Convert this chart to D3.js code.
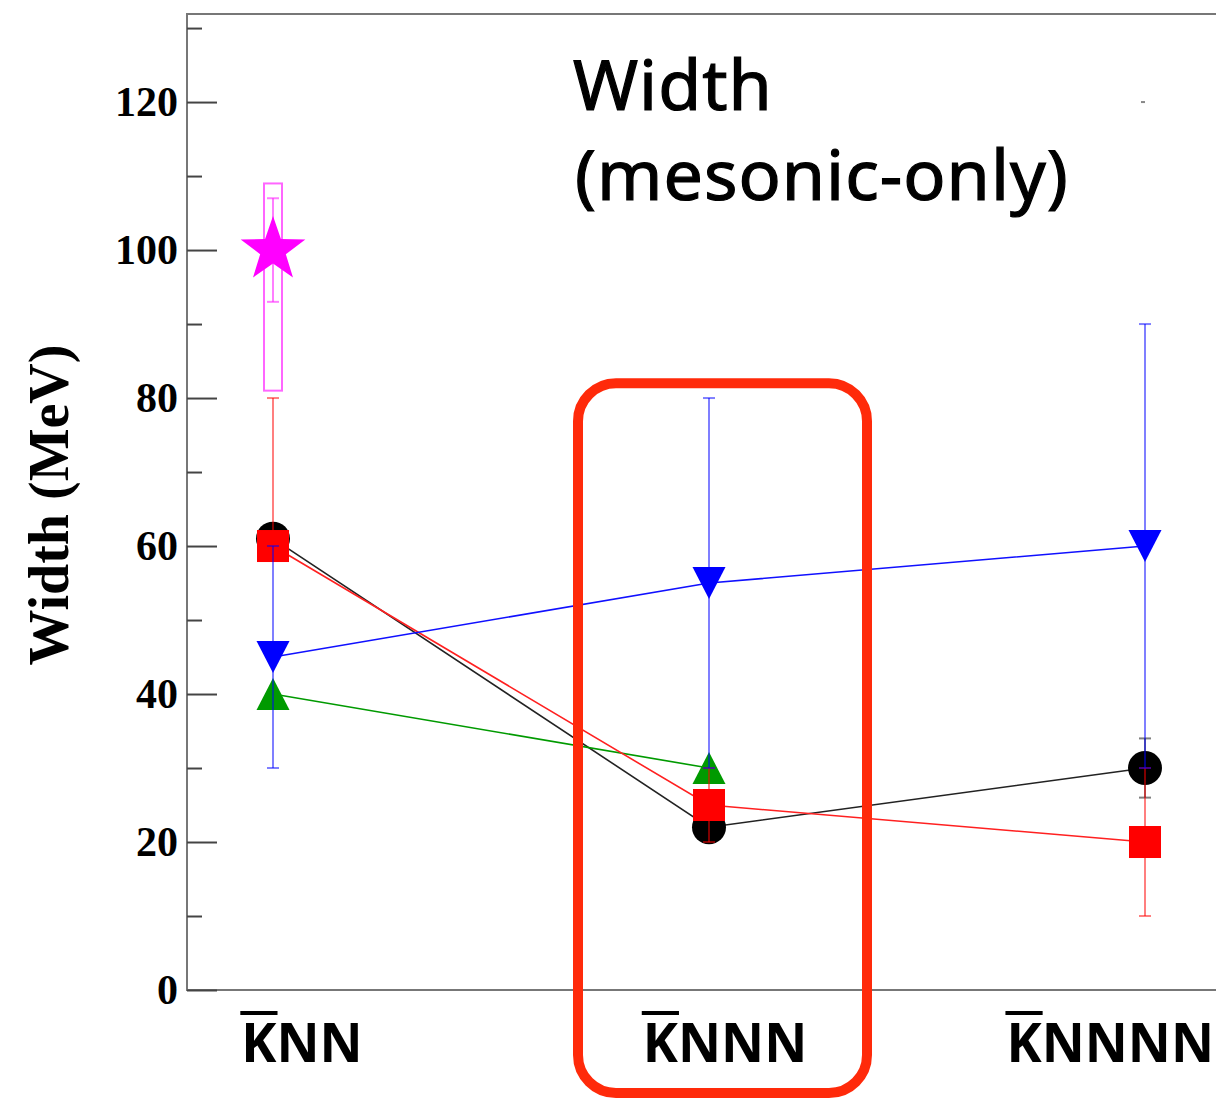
<!DOCTYPE html>
<html>
<head>
<meta charset="utf-8">
<script src="https://cdn.jsdelivr.net/npm/d3@7"></script>
<style>
  body { margin: 0; background: #fff; }
  svg { display: block; }
</style>
</head>
<body>
<svg id="chart" width="1216" height="1105"></svg>
<script>
// categories (the K is drawn with a bar over it)
const categories = ["KNN", "KNNN", "KNNNN"];

// mesonic-only widths (MeV), one list per calculation
const blackVals = [61, 22, 30];
const redVals = [60, 25, 20];
const blueVals = [45, 55, 60];
const greenVals = [40, 30, null];

// error bar ends (absolute values), null = not drawn
const blackLo = [null, null, 26];
const blackHi = [null, null, 34];
const redLo = [60, 20, 10];
const redHi = [80, 30, 30];
const blueLo = [30, 30, 30];
const blueHi = [60, 80, 90];

// experimental point on KNN (star) with stat. error and syst. box
const starVals = [100];
const starLo = [93];
const starHi = [107];
const starBoxLo = [81];
const starBoxHi = [109];

const yMajor = [0, 20, 40, 60, 80, 100, 120];
const yMinor = [10, 30, 50, 70, 90, 110, 130];

const svg = d3.select("#chart");
const W = 1216, H = 1105;
const plotLeft = 187, plotTop = 14, plotBottom = 990;

const y = d3.scaleLinear().domain([0, 131.9]).range([plotBottom, plotTop]);
const x = d3.scalePoint().domain(categories).range([273, 1145]);

// frame
const frame = svg.append("g").attr("stroke", "#777").attr("stroke-width", 2);
frame.append("line").attr("x1", plotLeft).attr("x2", W).attr("y1", plotTop).attr("y2", plotTop);
frame.append("line").attr("x1", plotLeft).attr("x2", W).attr("y1", plotBottom).attr("y2", plotBottom);
frame.append("line").attr("x1", plotLeft).attr("x2", plotLeft).attr("y1", plotTop - 1).attr("y2", plotBottom + 1);

// y axis, ticks pointing inward
const yAxis = svg.append("g")
    .attr("transform", `translate(${plotLeft},0)`)
    .call(d3.axisLeft(y).tickValues(yMajor).tickSize(-30).tickSizeOuter(0).tickPadding(9));
yAxis.select(".domain").remove();
yAxis.selectAll("line").attr("stroke", "#444").attr("stroke-width", 2);
yAxis.selectAll("text")
    .attr("font-family", "Liberation Serif, serif")
    .attr("font-weight", "bold")
    .attr("font-size", 42)
    .attr("fill", "#000");

const yMinorAxis = svg.append("g")
    .attr("transform", `translate(${plotLeft},0)`)
    .call(d3.axisLeft(y).tickValues(yMinor).tickSize(-15).tickSizeOuter(0).tickFormat(""));
yMinorAxis.select(".domain").remove();
yMinorAxis.selectAll("line").attr("stroke", "#444").attr("stroke-width", 2);

// stray tick mark on the right
svg.append("rect").attr("x", 1141).attr("y", y(120) - 1).attr("width", 4).attr("height", 2).attr("fill", "#888");

// y axis title
svg.append("text")
    .attr("transform", `translate(68,${(plotTop + plotBottom) / 2 + 3}) rotate(-90)`)
    .attr("text-anchor", "middle")
    .attr("font-family", "Liberation Serif, serif")
    .attr("font-weight", "bold")
    .attr("font-size", 56)
    .text("Width (MeV)");

// x labels with an overbar on the K (last one is pushed against the right edge)
const labelShift = [29, 16, 0];
categories.forEach(function(c, i) {
    const last = i === categories.length - 1;
    const t = svg.append("text")
        .attr("x", last ? W - 2 : x(c) + labelShift[i])
        .attr("y", 1062)
        .attr("text-anchor", last ? "end" : "middle")
        .attr("font-family", "Noto Sans, sans-serif")
        .attr("font-weight", "bold")
        .attr("font-size", 53)
        .text(c);
    const node = t.node();
    const p = node.getStartPositionOfChar(0);
    const kw = node.getSubStringLength(0, 1);
    svg.append("line")
        .attr("x1", p.x - 1).attr("x2", p.x + kw + 1)
        .attr("y1", 1013).attr("y2", 1013)
        .attr("stroke", "#000").attr("stroke-width", 4);
});

// title
const title = svg.append("text")
    .attr("font-family", "Noto Sans, sans-serif")
    .attr("font-size", 70)
    .attr("letter-spacing", 1)
    .attr("fill", "#000")
    .attr("stroke", "#000")
    .attr("stroke-width", 1.2);
title.append("tspan").attr("x", 573).attr("y", 110).text("Width");
title.append("tspan").attr("x", 575).attr("y", 200).text("(mesonic-only)");

// helpers
function errorBars(g, lo, hi, color, opacity) {
    categories.forEach(function(c, i) {
        if (lo[i] == null) return;
        const cx = x(c);
        const e = g.append("g").attr("stroke", color).attr("stroke-opacity", opacity).attr("stroke-width", 2);
        e.append("line").attr("x1", cx).attr("x2", cx).attr("y1", y(lo[i])).attr("y2", y(hi[i]));
        e.append("line").attr("x1", cx - 6).attr("x2", cx + 6).attr("y1", y(lo[i])).attr("y2", y(lo[i]));
        e.append("line").attr("x1", cx - 6).attr("x2", cx + 6).attr("y1", y(hi[i])).attr("y2", y(hi[i]));
    });
}

function connector(g, vals, color, width) {
    const pts = categories.map((c, i) => [x(c), vals[i]]).filter(d => d[1] != null);
    g.append("path")
        .datum(pts)
        .attr("fill", "none")
        .attr("stroke", color)
        .attr("stroke-width", width)
        .attr("d", d3.line().x(d => d[0]).y(d => y(d[1])));
}

function markers(g, vals, color, shape) {
    const pts = categories.map((c, i) => [x(c), vals[i]]).filter(d => d[1] != null);
    const sel = g.selectAll(null).data(pts).enter();
    if (shape === "circle") {
        sel.append("circle").attr("cx", d => d[0]).attr("cy", d => y(d[1])).attr("r", 17).attr("fill", color);
    } else if (shape === "square") {
        sel.append("rect").attr("x", d => d[0] - 16).attr("y", d => y(d[1]) - 16)
            .attr("width", 32).attr("height", 32).attr("fill", color);
    } else if (shape === "up") {
        sel.append("path").attr("fill", color)
            .attr("d", d => `M${d[0] - 16.5},${y(d[1]) + 16}L${d[0] + 16.5},${y(d[1]) + 16}L${d[0]},${y(d[1]) - 16}Z`);
    } else if (shape === "down") {
        sel.append("path").attr("fill", color)
            .attr("d", d => `M${d[0] - 16.5},${y(d[1]) - 16}L${d[0] + 16.5},${y(d[1]) - 16}L${d[0]},${y(d[1]) + 16}Z`);
    }
}

function starPath(cx, cy, R, r) {
    let s = "";
    for (let k = 0; k < 10; k++) {
        const a = -Math.PI / 2 + k * Math.PI / 5;
        const rad = k % 2 === 0 ? R : r;
        s += (k === 0 ? "M" : "L") + (cx + rad * Math.cos(a)) + "," + (cy + rad * Math.sin(a));
    }
    return s + "Z";
}

const plot = svg.append("g");

// connecting lines
connector(plot, blackVals, "#222", 1.6);
connector(plot, greenVals, "#009a00", 1.6);
connector(plot, redVals, "#ff2020", 1.6);
connector(plot, blueVals, "#1010ff", 1.6);

// black
errorBars(plot, blackLo, blackHi, "#000", 0.5);
markers(plot, blackVals, "#000", "circle");
// green
markers(plot, greenVals, "#009a00", "up");
// red
markers(plot, redVals, "#ff0000", "square");
errorBars(plot, redLo, redHi, "#ff0000", 0.5);
// blue
markers(plot, blueVals, "#0000ff", "down");
errorBars(plot, blueLo, blueHi, "#0000ff", 0.5);

// star with syst box
const kx = x(categories[0]);
starVals.forEach(function(v, i) {
    plot.append("rect")
        .attr("x", kx - 9).attr("y", y(starBoxHi[i]))
        .attr("width", 18).attr("height", y(starBoxLo[i]) - y(starBoxHi[i]))
        .attr("fill", "none").attr("stroke", "#ff00ff").attr("stroke-opacity", 0.6).attr("stroke-width", 2);
    plot.append("path").attr("d", starPath(kx, y(v), 34, 13.5)).attr("fill", "#ff00ff");
    const e = plot.append("g").attr("stroke", "#ff00ff").attr("stroke-opacity", 0.5).attr("stroke-width", 2);
    e.append("line").attr("x1", kx).attr("x2", kx).attr("y1", y(starLo[i])).attr("y2", y(starHi[i]));
    e.append("line").attr("x1", kx - 6).attr("x2", kx + 6).attr("y1", y(starLo[i])).attr("y2", y(starLo[i]));
    e.append("line").attr("x1", kx - 6).attr("x2", kx + 6).attr("y1", y(starHi[i])).attr("y2", y(starHi[i]));
});

// highlight box around KNNN
const hx = x(categories[1]);
svg.append("rect")
    .attr("x", hx - 131).attr("y", y(82))
    .attr("width", 289).attr("height", 1093 - y(82))
    .attr("rx", 38).attr("ry", 38)
    .attr("fill", "none")
    .attr("stroke", "#ff2a0a")
    .attr("stroke-width", 10);
</script>
</body>
</html>
